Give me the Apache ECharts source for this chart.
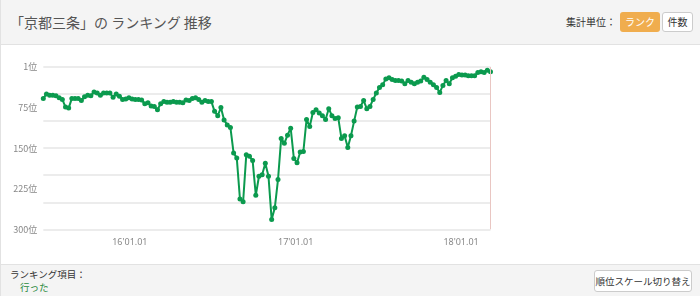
<!DOCTYPE html>
<html><head><meta charset="utf-8">
<script src="https://cdn.jsdelivr.net/npm/echarts@6/dist/echarts.min.js"></script>
<style>
html,body{margin:0;padding:0;width:700px;height:296px;overflow:hidden;background:#fff;font-family:"Noto Sans CJK JP","Noto Sans",sans-serif;}
#header{position:absolute;left:0;top:0;width:700px;height:44px;background:#f4f4f4;border-bottom:1px solid #e2e2e2;}
#footer{position:absolute;left:0;top:264px;width:700px;height:32px;background:#f4f4f4;border-top:1px solid #e2e2e2;}
#leftb{position:absolute;left:0;top:0;width:1px;height:296px;background:#e2e2e2;}
#title{position:absolute;left:10px;top:12px;font-size:14px;color:#555;white-space:nowrap;line-height:20px;}
#unit{position:absolute;right:84px;top:15px;font-size:10px;color:#333;line-height:14px;white-space:nowrap;}
.btn{position:absolute;box-sizing:border-box;font-size:10px;text-align:center;border-radius:3px;white-space:nowrap;}
#b1{left:620px;top:12px;width:40px;height:20px;line-height:20px;background:#f0ad4e;color:#fff;}
#b2{left:662px;top:12px;width:31px;height:20px;line-height:18px;background:#fff;color:#333;border:1px solid #ccc;}
#item{position:absolute;left:10px;top:269px;font-size:9.5px;color:#333;line-height:11px;white-space:nowrap;}
#itemv{position:absolute;left:20px;top:282px;font-size:9.5px;color:#2a8a3c;line-height:11px;white-space:nowrap;}
#b3{left:594px;top:270px;width:98px;height:22px;line-height:20px;background:#fff;color:#333;border:1px solid #ccc;font-size:9.5px;}
#chart{position:absolute;left:0;top:0;width:700px;height:296px;}
</style></head>
<body>
<div id="header"></div><div id="footer"></div><div id="leftb"></div>
<div id="title">「京都三条」の ランキング 推移</div>
<div id="unit">集計単位：</div>
<div class="btn" id="b1">ランク</div>
<div class="btn" id="b2">件数</div>
<div id="item">ランキング項目：</div>
<div id="itemv">行った</div>
<div class="btn" id="b3">順位スケール切り替え</div>
<div id="chart"></div>
<script>
const startDate = '2015-06-24';
const ranks = [
58,50,52,52,53,57,60,74,76,58, 58,58,62,55,52,53,46,48,52,48,
48,48,56,50,54,60,59,57,59,60, 60,61,68,66,72,73,79,68,64,65,
65,64,65,65,66,61,62,58,57,60, 65,62,64,64,82,90,75,98,107,112,
159,168,244,249,162,165,
173,237,202,199,178,202,282,260,208,132, 141,126,113,169,177,157,156,97,110,84,
79,85,90,97,77,90,95,94,132,127, 149,127,100,74,73,62,77,73,60,48,
38,33,22,20,23,25,25,26,31,25, 28,31,28,26,19,23,28,33,38,47,
34,25,31,20,17,14,15,15,16,16, 16,10,9,10,6,9
];
const xTickDates = ['2016-01-01','2017-01-01','2018-01-01'];
const yTickValues = [0,75,150,225,300];
const yTickLabels = ['1位','75位','150位','225位','300位'];

const dates = [];
{
  const t0 = new Date(startDate + 'T00:00:00').getTime();
  for (let i = 0; i < ranks.length; i++) dates.push(t0 + i * 7 * 86400000);
}
const seriesData = ranks.map((r, i) => [dates[i], r]);
const pad = n => (n < 10 ? '0' : '') + n;

const chart = echarts.init(document.getElementById('chart'));
chart.setOption({
  animation: false,
  grid: {left: 43.3, right: 209.5, top: 67, bottom: 66.7},
  xAxis: {
    type: 'value',
    min: dates[0], max: dates[dates.length - 1],
    axisLine: {show: false}, axisTick: {show: false}, splitLine: {show: false},
    axisLabel: {
      customValues: xTickDates.map(d => new Date(d + 'T00:00:00').getTime()),
      color: '#888', fontSize: 9, margin: 9, fontFamily: 'Noto Sans',
      formatter: v => { const d = new Date(v); return String(d.getFullYear()).slice(2) + "'" + pad(d.getMonth() + 1) + '.' + pad(d.getDate()); }
    }
  },
  yAxis: [
    {
      type: 'value', inverse: true, min: 0, max: 300, interval: 50,
      axisLine: {show: false}, axisTick: {show: false}, axisLabel: {show: false},
      splitLine: {lineStyle: {color: '#e6e6e6', width: 1.5}}
    },
    {
      type: 'value', inverse: true, min: 0, max: 300, interval: 75, position: 'left',
      axisLine: {show: false}, axisTick: {show: false}, splitLine: {show: false},
      axisLabel: {
        color: '#888', fontSize: 9, margin: 6, fontFamily: 'Noto Sans CJK JP',
        formatter: v => yTickLabels[yTickValues.indexOf(v)]
      }
    }
  ],
  series: [{
    type: 'line', data: seriesData, yAxisIndex: 0,
    symbol: 'circle', symbolSize: 5, showSymbol: true,
    lineStyle: {color: '#0b9a4e', width: 2},
    itemStyle: {color: '#0b9a4e'},
    markLine: {
      silent: true, symbol: ['none', 'none'], label: {show: false},
      lineStyle: {color: '#e9c6c2', type: 'solid', width: 1},
      data: [{xAxis: dates[dates.length - 1]}]
    }
  }]
});
</script>
</body></html>
